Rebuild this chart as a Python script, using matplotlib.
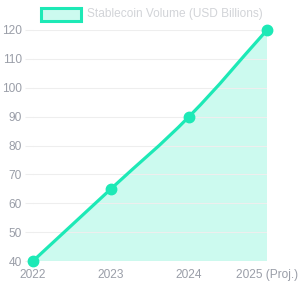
import numpy as np
import matplotlib
matplotlib.use("Agg")
import matplotlib.pyplot as plt
from matplotlib.path import Path
from matplotlib.patches import PathPatch, Rectangle

years = ["2022", "2023", "2024", "2025 (Proj.)"]
volume = [40, 65, 90, 120]
yticks = [40, 50, 60, 70, 80, 90, 100, 110, 120]

line_col = "#1de9b6"
fill_col = "#ccfaef"
text_col = "#9a9ea8"

plt.rcParams["font.family"] = ["Liberation Sans", "DejaVu Sans"]

fig = plt.figure(figsize=(3.0, 2.89), dpi=100)
ax = fig.add_axes([33 / 300, 1 - 261 / 289, 234 / 300, 231 / 289])
ax.set_xlim(0, len(years) - 1)
ax.set_ylim(40, 120)

# chart.js style spline (tension 0.4) computed in pixel space
x = np.arange(len(years), dtype=float)
pts = ax.transData.transform(np.column_stack([x, volume]))
t = 0.4
cps = []
for i in range(len(pts)):
    prev = pts[i - 1] if i > 0 else pts[i]
    nxt = pts[i + 1] if i < len(pts) - 1 else pts[i]
    d01 = np.hypot(*(pts[i] - prev))
    d12 = np.hypot(*(nxt - pts[i]))
    tot = d01 + d12
    s01 = d01 / tot if tot else 0
    s12 = d12 / tot if tot else 0
    cps.append((pts[i] - t * s01 * (nxt - prev), pts[i] + t * s12 * (nxt - prev)))

verts = [pts[0]]
codes = [Path.MOVETO]
for i in range(1, len(pts)):
    verts += [cps[i - 1][1], cps[i][0], pts[i]]
    codes += [Path.CURVE4] * 3
inv = ax.transData.inverted()
verts = inv.transform(np.array(verts))

line_path = Path(verts, codes)
fill_verts = np.vstack([verts, [[x[-1], 40], [x[0], 40], verts[0]]])
fill_codes = codes + [Path.LINETO, Path.LINETO, Path.CLOSEPOLY]
ax.add_patch(PathPatch(Path(fill_verts, fill_codes), facecolor=fill_col,
                       edgecolor="none", zorder=1))
ax.add_patch(PathPatch(line_path, facecolor="none", edgecolor=line_col,
                       lw=2.3, zorder=3, clip_on=False))
ax.plot(x, volume, "o", color=line_col, ms=7.5, zorder=4, clip_on=False)

for s in ax.spines.values():
    s.set_visible(False)
ax.set_yticks(yticks)
ax.set_xticks(x)
ax.set_xticklabels(years)
ax.grid(axis="y", color="#eeeeee", lw=0.8, zorder=0)
ax.tick_params(axis="y", length=6, color="#eeeeee", width=0.8, pad=2,
               labelsize=8.6, labelcolor=text_col)
ax.tick_params(axis="x", length=0, pad=6, labelsize=8.6, labelcolor=text_col)

# legend
fig.patches.append(Rectangle((41 / 300, 1 - 21 / 289), 40 / 300, 13 / 289,
                             transform=fig.transFigure, facecolor=fill_col,
                             edgecolor=line_col, lw=2.2))
fig.text(87 / 300, 1 - 14.5 / 289, "Stablecoin Volume (USD Billions)",
         color="#d2d4d8", fontsize=8.6, va="center", ha="left")

fig.savefig("out.png", dpi=100)
